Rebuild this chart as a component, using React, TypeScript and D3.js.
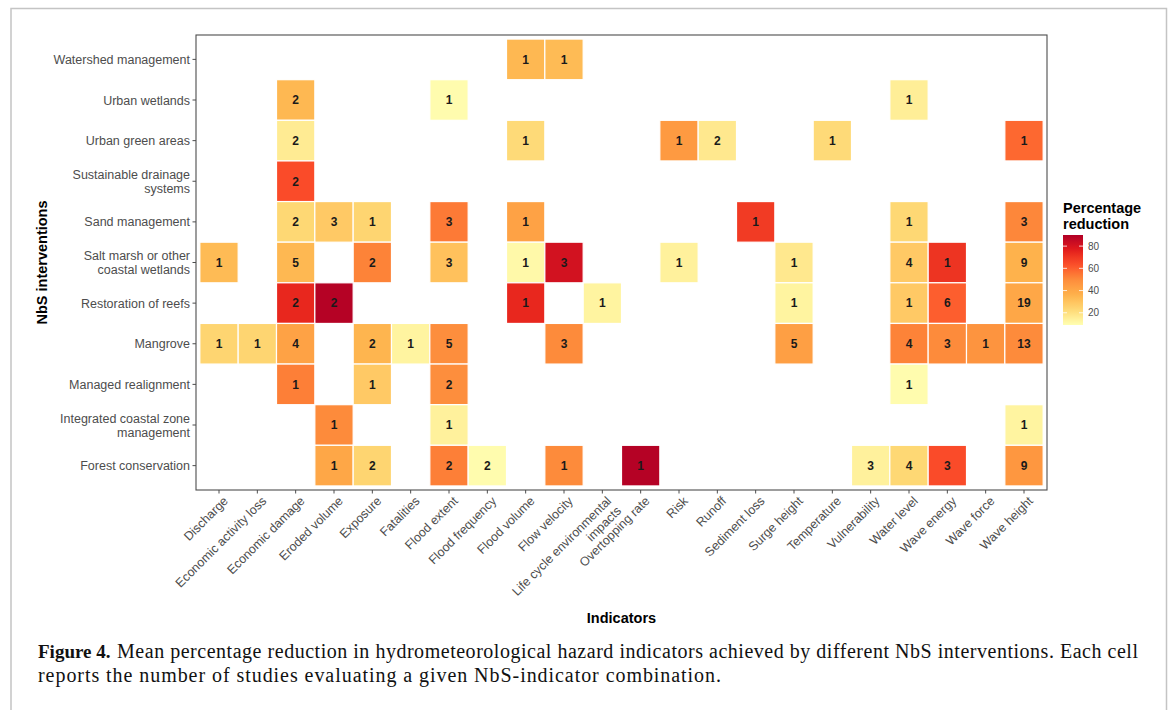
import React, { useEffect, useRef } from 'react';
import * as d3 from 'd3';

// indicators along x, interventions along y (top to bottom)
const indicators = [
  'Discharge', 'Economic activity loss', 'Economic damage', 'Eroded volume', 'Exposure',
  'Fatalities', 'Flood extent', 'Flood frequency', 'Flood volume', 'Flow velocity',
  'Life cycle environmental\nimpacts', 'Overtopping rate', 'Risk', 'Runoff', 'Sediment loss',
  'Surge height', 'Temperature', 'Vulnerability', 'Water level', 'Wave energy', 'Wave force',
  'Wave height',
];

const interventions = [
  'Watershed management', 'Urban wetlands', 'Urban green areas',
  'Sustainable drainage\nsystems', 'Sand management',
  'Salt marsh or other\ncoastal wetlands', 'Restoration of reefs', 'Mangrove',
  'Managed realignment', 'Integrated coastal zone\nmanagement', 'Forest conservation',
];

// [intervention index, indicator index, number of studies, mean % reduction]
const cells: [number, number, number, number][] = [
  [0, 8, 1, 34], [0, 9, 1, 33],
  [1, 2, 2, 34], [1, 6, 1, 10], [1, 18, 1, 15],
  [2, 2, 2, 16], [2, 8, 1, 22], [2, 12, 1, 45], [2, 13, 2, 17], [2, 16, 1, 22], [2, 21, 1, 58],
  [3, 2, 2, 64],
  [4, 2, 2, 23], [4, 3, 3, 28], [4, 4, 1, 24], [4, 6, 3, 54], [4, 8, 1, 42], [4, 14, 1, 69],
  [4, 18, 1, 23], [4, 21, 3, 51],
  [5, 0, 1, 33], [5, 2, 5, 34], [5, 4, 2, 52], [5, 6, 3, 31], [5, 8, 1, 11], [5, 9, 3, 81],
  [5, 12, 1, 14], [5, 15, 1, 17], [5, 18, 4, 28], [5, 19, 1, 71], [5, 21, 9, 36],
  [6, 2, 2, 74], [6, 3, 2, 89], [6, 8, 1, 74], [6, 10, 1, 13], [6, 15, 1, 13], [6, 18, 1, 28],
  [6, 19, 6, 60], [6, 21, 19, 40],
  [7, 0, 1, 24], [7, 1, 1, 24], [7, 2, 4, 42], [7, 4, 2, 35], [7, 5, 1, 13], [7, 6, 5, 49],
  [7, 9, 3, 50], [7, 15, 5, 43], [7, 18, 4, 52], [7, 19, 3, 50], [7, 20, 1, 47], [7, 21, 13, 50],
  [8, 2, 1, 53], [8, 4, 1, 28], [8, 6, 2, 49], [8, 18, 1, 10],
  [9, 3, 1, 50], [9, 6, 1, 14], [9, 21, 1, 13],
  [10, 3, 1, 40], [10, 4, 2, 24], [10, 6, 2, 53], [10, 7, 2, 10], [10, 9, 1, 50],
  [10, 11, 1, 89], [10, 17, 3, 14], [10, 18, 4, 23], [10, 19, 3, 64], [10, 21, 9, 46],
];

const legendTicks = [20, 40, 60, 80];
const palette = ['#ffffb2', '#fed976', '#feb24c', '#fd8d3c', '#fc4e2a', '#e31a1c', '#b10026'];
const colorDomain = [9, 90];

const W = 1170;
const H = 710;
const sans = '"Liberation Sans", Arial, sans-serif';
const serif = '"Liberation Serif", "Times New Roman", serif';

const HeatmapFigure = () => {
  const svgRef = useRef(null);

  useEffect(() => {
    const svg = d3.select(svgRef.current);
    svg.selectAll('*').remove();

    const panel = { left: 196, right: 1047, top: 35, bottom: 490 };

    const x = d3.scalePoint().domain(indicators).range([panel.left, panel.right]).padding(0.6);
    const y = d3.scalePoint().domain(interventions).range([panel.top, panel.bottom]).padding(0.6);
    const color = d3.scaleSequential(d3.piecewise(d3.interpolateLab, palette)).domain(colorDomain);

    // outer frame of the figure
    svg.append('path')
      .attr('d', `M11,${H} V8.5 H1166.5 V${H}`)
      .attr('fill', 'none')
      .attr('stroke', '#c4c4c4')
      .attr('stroke-width', 1.5);

    // tiles
    const g = svg.append('g');
    const cw = x.step();
    const ch = y.step();
    cells.forEach(([r, c, n, pct]) => {
      const cx = x(indicators[c]);
      const cy = y(interventions[r]);
      g.append('rect')
        .attr('x', cx - cw / 2)
        .attr('y', cy - ch / 2)
        .attr('width', cw)
        .attr('height', ch)
        .attr('fill', color(pct))
        .attr('stroke', 'white')
        .attr('stroke-width', 1.2);
      g.append('text')
        .attr('x', cx)
        .attr('y', cy)
        .attr('dy', '0.36em')
        .attr('text-anchor', 'middle')
        .attr('font-family', sans)
        .attr('font-weight', 'bold')
        .attr('font-size', 12)
        .attr('fill', '#1a1a1a')
        .text(n);
    });

    // panel border
    svg.append('rect')
      .attr('x', panel.left)
      .attr('y', panel.top)
      .attr('width', panel.right - panel.left)
      .attr('height', panel.bottom - panel.top)
      .attr('fill', 'none')
      .attr('stroke', '#4d4d4d')
      .attr('stroke-width', 1.1);

    // y axis ticks + labels
    interventions.forEach((name) => {
      const ty = y(name);
      svg.append('line')
        .attr('x1', panel.left - 3.5).attr('x2', panel.left)
        .attr('y1', ty).attr('y2', ty)
        .attr('stroke', '#4d4d4d').attr('stroke-width', 1);
      const lines = name.split('\n');
      const t = svg.append('text')
        .attr('text-anchor', 'end')
        .attr('font-family', sans)
        .attr('font-size', 12.5)
        .attr('fill', '#4d4d4d');
      lines.forEach((ln, i) => {
        t.append('tspan')
          .attr('x', panel.left - 6)
          .attr('y', ty + 4.5 + (i - (lines.length - 1) / 2) * 14)
          .text(ln);
      });
    });

    // x axis ticks + rotated labels
    indicators.forEach((name) => {
      const tx = x(name);
      svg.append('line')
        .attr('x1', tx).attr('x2', tx)
        .attr('y1', panel.bottom).attr('y2', panel.bottom + 3.5)
        .attr('stroke', '#4d4d4d').attr('stroke-width', 1);
      const t = svg.append('text')
        .attr('transform', `translate(${tx + 3},${panel.bottom + 5}) rotate(-45)`)
        .attr('text-anchor', 'end')
        .attr('font-family', sans)
        .attr('font-size', 12.5)
        .attr('fill', '#4d4d4d');
      name.split('\n').forEach((ln, i) => {
        t.append('tspan')
          .attr('x', 0)
          .attr('y', 9.5 + i * 14)
          .text(ln);
      });
    });

    // axis titles
    svg.append('text')
      .attr('x', (panel.left + panel.right) / 2)
      .attr('y', 623)
      .attr('text-anchor', 'middle')
      .attr('font-family', sans)
      .attr('font-weight', 'bold')
      .attr('font-size', 14.5)
      .attr('fill', '#000')
      .text('Indicators');

    svg.append('text')
      .attr('transform', `translate(47,${(panel.top + panel.bottom) / 2}) rotate(-90)`)
      .attr('text-anchor', 'middle')
      .attr('font-family', sans)
      .attr('font-weight', 'bold')
      .attr('font-size', 14.5)
      .attr('fill', '#000')
      .text('NbS interventions');

    // legend
    const lg = { x: 1063, top: 235, bottom: 325, w: 20 };
    const grad = svg.append('defs').append('linearGradient')
      .attr('id', 'pct-grad')
      .attr('x1', 0).attr('x2', 0).attr('y1', 1).attr('y2', 0);
    d3.range(0, 1.0001, 0.05).forEach((t) => {
      grad.append('stop')
        .attr('offset', t)
        .attr('stop-color', color(colorDomain[0] + t * (colorDomain[1] - colorDomain[0])));
    });
    svg.append('rect')
      .attr('x', lg.x).attr('y', lg.top)
      .attr('width', lg.w).attr('height', lg.bottom - lg.top)
      .attr('fill', 'url(#pct-grad)');

    const ly = d3.scaleLinear().domain(colorDomain).range([lg.bottom, lg.top]);
    legendTicks.forEach((v) => {
      const yy = ly(v);
      [lg.x, lg.x + lg.w - 4].forEach((x0) => {
        svg.append('line')
          .attr('x1', x0).attr('x2', x0 + 4)
          .attr('y1', yy).attr('y2', yy)
          .attr('stroke', 'white').attr('stroke-opacity', 0.8).attr('stroke-width', 1);
      });
      svg.append('text')
        .attr('x', lg.x + lg.w + 5)
        .attr('y', yy)
        .attr('dy', '0.35em')
        .attr('font-family', sans)
        .attr('font-size', 10)
        .attr('fill', '#4d4d4d')
        .text(v);
    });

    const lt = svg.append('text')
      .attr('font-family', sans)
      .attr('font-weight', 'bold')
      .attr('font-size', 14.5)
      .attr('fill', '#000');
    ['Percentage', 'reduction'].forEach((ln, i) => {
      lt.append('tspan').attr('x', lg.x).attr('y', 213 + i * 16).text(ln);
    });

    // caption (line 1 justified to the full width)
    const capStyle = (sel) => sel
      .attr('font-family', serif)
      .attr('font-size', 20)
      .attr('fill', '#111');
    capStyle(svg.append('text'))
      .attr('x', 38).attr('y', 658)
      .attr('font-size', 19)
      .attr('font-weight', 'bold')
      .text('Figure 4.');
    capStyle(svg.append('text'))
      .attr('x', 117).attr('y', 658)
      .attr('textLength', 1021)
      .attr('lengthAdjust', 'spacing')
      .text('Mean percentage reduction in hydrometeorological hazard indicators achieved by different NbS interventions. Each cell');
    capStyle(svg.append('text'))
      .attr('x', 38).attr('y', 682)
      .attr('textLength', 683)
      .attr('lengthAdjust', 'spacing')
      .text('reports the number of studies evaluating a given NbS-indicator combination.');
  }, []);

  return (
    <svg
      ref={svgRef}
      width={W}
      height={H}
      style={{ position: 'absolute', left: 0, top: 0, background: 'white' }}
    />
  );
};

export default function App() {
  return <HeatmapFigure />;
}
